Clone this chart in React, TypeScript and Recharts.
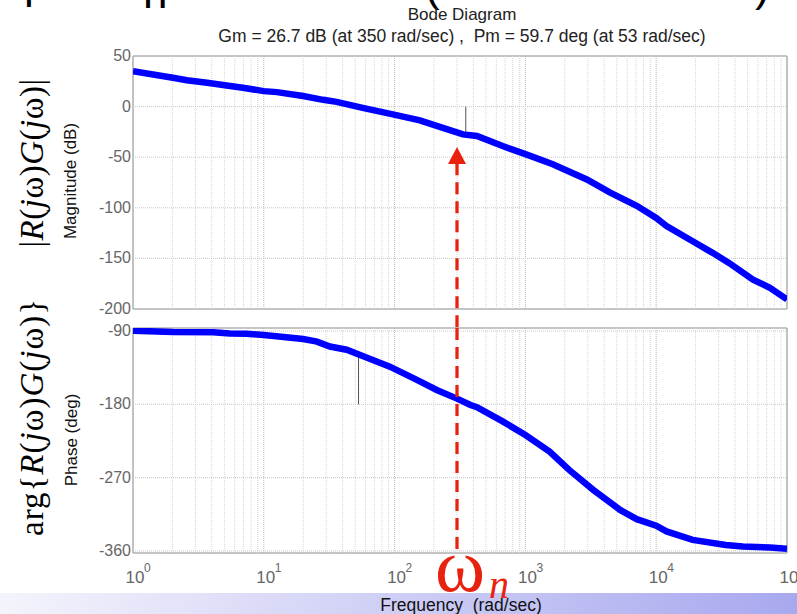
import { LineChart, Line, XAxis, YAxis, ReferenceLine, ReferenceArea, ReferenceDot } from "recharts"

// magnitude curve (rad/sec, dB)
const magFreq = [1, 2.02, 2.58, 3.68, 6.9, 10, 12.6, 20, 28.4, 36, 57, 97, 156, 234, 333, 426, 670, 1000, 1620, 2950, 4450, 7100, 10000, 12000, 19000, 27000, 36000, 55000, 74000, 100000]
const magDb = [35, 28.5, 26, 23.5, 18.6, 15.3, 14.3, 10.4, 6.7, 4.7, -1.2, -7.7, -13.6, -21, -27.5, -29, -39, -47, -57, -72, -85, -98, -110, -118, -133, -144.5, -154.5, -171, -179, -190.5]

// phase curve (rad/sec, deg)
const phaseFreq = [1, 2.02, 4.1, 5.5, 7.4, 10, 20, 25.5, 32, 43, 57, 92, 148, 210, 300, 380, 426, 670, 1000, 1530, 2160, 3300, 5300, 7100, 10000, 12000, 19000, 34000, 46000, 74000, 100000]
const phaseDeg = [-89.6, -91.2, -91.6, -92.9, -93.3, -94.9, -99.8, -103, -109, -113, -120.7, -133.8, -150, -162.4, -173, -180.8, -183.6, -201, -217.6, -238, -260.5, -285, -309.6, -321, -329, -336, -346.4, -352.6, -354.6, -355.8, -357.4]

const decades = [1, 10, 100, 1000, 10000, 100000]
const magTicks = [50, 0, -50, -100, -150, -200]
const phaseTicks = [-90, -180, -270, -360]

// margins: Gm = 26.7 dB at 350 rad/sec, Pm = 59.7 deg at 53 rad/sec
const gmFreq = 350
const gmDb = 26.7
const pmFreq = 53
const pmDeg = 59.7
const wn = 300

const magData = magFreq.map((f, i) => ({ f, v: magDb[i] }))
const phaseData = phaseFreq.map((f, i) => ({ f, v: phaseDeg[i] }))
const minorGrid = decades.slice(0, 5).flatMap(d => [2, 3, 4, 5, 6, 7, 8, 9].map(k => k * d))

const SANS = "'Liberation Sans', Arial, Helvetica, sans-serif"
const SERIF = "'Liberation Serif', 'Times New Roman', serif"
const RED = "#e8220f"
const BLUE = "#0000ff"

const YTick = ({ x, y, payload }: any) => (
    <text x={x} y={y} dy={5} textAnchor="end" fill="#666" fontSize={16} fontFamily={SANS}>
        {payload.value}
    </text>
)

const XTick = ({ x, y, payload }: any) => {
    const e = Math.round(Math.log10(payload.value))
    return (
        <g>
            <text x={x + 2} y={y + 30} textAnchor="middle" fill="#666" fontSize={17} fontFamily={SANS}>10</text>
            <text x={x + 11} y={y + 19} textAnchor="start" fill="#666" fontSize={12} fontFamily={SANS}>{e}</text>
        </g>
    )
}

function gridLines(yTicks: number[]) {
    return [
        ...minorGrid.map(v => <ReferenceLine key={"m" + v} x={v} stroke="#d4d4d4" strokeDasharray="1 1" />),
        ...decades.map(v => <ReferenceLine key={"d" + v} x={v} stroke="#b8b8b8" strokeDasharray="1 1" />),
        ...yTicks.map(v => <ReferenceLine key={"y" + v} y={v} stroke="#c8c8c8" strokeDasharray="1 1" />),
    ]
}

export default function App() {
    return (
        <div style={{ position: "absolute", left: 0, top: 0, width: 797, height: 614, background: "#fff", overflow: "hidden" }}>
            {/* slide footer strip */}
            <div style={{ position: "absolute", left: 0, top: 593, width: 797, height: 21, background: "linear-gradient(to right, #f4f4fc, #a8a8ef)" }} />

            {/* magnitude */}
            <div style={{ position: "absolute", left: 0, top: 0 }}>
                <LineChart width={797} height={614} margin={{ top: 56, right: 10, bottom: 305, left: 73 }}>
                    <XAxis dataKey="f" type="number" scale="log" domain={[1, 100000]} allowDataOverflow hide />
                    <YAxis type="number" domain={[-200, 50]} ticks={magTicks} interval={0} width={60} axisLine={false} tickLine={false} tickSize={0} tickMargin={2} tick={<YTick />} allowDataOverflow />
                    {gridLines([0, -50, -100, -150])}
                    <ReferenceArea x1={1} x2={100000} y1={-200} y2={50} fill="none" fillOpacity={0} stroke="#8a8a8a" ifOverflow="visible" />
                    <ReferenceLine segment={[{ x: gmFreq, y: 0 }, { x: gmFreq, y: -gmDb }]} stroke="#555" strokeWidth={1} />
                    <Line data={magData} dataKey="v" type="linear" stroke={BLUE} strokeWidth={6.5} dot={false} isAnimationActive={false} />
                    <ReferenceLine segment={[{ x: wn, y: -56 }, { x: wn, y: -218 }]} stroke={RED} strokeWidth={3.3} strokeDasharray="12 7" ifOverflow="visible" />
                    <ReferenceDot x={wn} y={-40} ifOverflow="visible" shape={(p: any) => (
                        <path d={`M${p.cx},${p.cy} L${p.cx - 9},${p.cy + 17} L${p.cx + 9},${p.cy + 17} Z`} fill={RED} />
                    )} />
                </LineChart>
            </div>

            {/* phase */}
            <div style={{ position: "absolute", left: 0, top: 0 }}>
                <LineChart width={797} height={614} margin={{ top: 328, right: 10, bottom: 21, left: 73 }}>
                    <XAxis dataKey="f" type="number" scale="log" domain={[1, 100000]} ticks={decades} interval={0} height={40} axisLine={false} tickLine={false} tickSize={0} tickMargin={0} tick={<XTick />} allowDataOverflow />
                    <YAxis type="number" domain={[-362.5, -86.3]} ticks={phaseTicks} interval={0} width={60} axisLine={false} tickLine={false} tickSize={0} tickMargin={2} tick={<YTick />} allowDataOverflow />
                    {gridLines(phaseTicks)}
                    <ReferenceArea x1={1} x2={100000} y1={-362.5} y2={-86.3} fill="none" fillOpacity={0} stroke="#8a8a8a" ifOverflow="visible" />
                    <ReferenceLine segment={[{ x: pmFreq, y: -180 }, { x: pmFreq, y: -180 + pmDeg }]} stroke="#555" strokeWidth={1} />
                    <Line data={phaseData} dataKey="v" type="linear" stroke={BLUE} strokeWidth={6.5} dot={false} isAnimationActive={false} />
                    <ReferenceLine segment={[{ x: wn, y: -86.3 }, { x: wn, y: -363 }]} stroke={RED} strokeWidth={3.3} strokeDasharray="12 7" ifOverflow="visible" />
                </LineChart>
            </div>

            {/* texts */}
            <svg width={797} height={614} style={{ position: "absolute", left: 0, top: 0, pointerEvents: "none" }}>
                {/* bottom of the slide title, cut off */}
                <g fontFamily={SANS} fontSize={44} fill="#000">
                    <text x={24} y={-2}>p</text>
                    <text x={143} y={8}>n</text>
                    <text x={425} y={1}>(</text>
                    <text x={755} y={1}>)</text>
                </g>
                <text x={462} y={20} textAnchor="middle" fontFamily={SANS} fontSize={17} fill="#222">Bode Diagram</text>
                <text x={462} y={42} textAnchor="middle" fontFamily={SANS} fontSize={17.5} fill="#222" style={{ whiteSpace: "pre" }}>
                    Gm = 26.7 dB (at 350 rad/sec) ,  Pm = 59.7 deg (at 53 rad/sec)
                </text>
                <text transform="translate(76,181) rotate(-90)" textAnchor="middle" fontFamily={SANS} fontSize={17} fill="#111">Magnitude (dB)</text>
                <text transform="translate(77,440) rotate(-90)" textAnchor="middle" fontFamily={SANS} fontSize={17} fill="#111">Phase (deg)</text>
                <text x={461} y={611} textAnchor="middle" fontFamily={SANS} fontSize={17.5} fill="#111" style={{ whiteSpace: "pre" }}>Frequency  (rad/sec)</text>

                <text transform="translate(43,163) rotate(-90)" textAnchor="middle" fontFamily={SERIF} fontSize={33} fill="#000" letterSpacing={0.5}>
                    |<tspan fontStyle="italic">R</tspan>(<tspan fontStyle="italic">j</tspan>ω)<tspan fontStyle="italic">G</tspan>(<tspan fontStyle="italic">j</tspan>ω)|
                </text>
                <text transform="translate(43,417) rotate(-90)" textAnchor="middle" fontFamily={SERIF} fontSize={33} fill="#000" letterSpacing={1}>
                    arg{"{"}<tspan fontStyle="italic">R</tspan>(<tspan fontStyle="italic">j</tspan>ω)<tspan fontStyle="italic">G</tspan>(<tspan fontStyle="italic">j</tspan>ω){"}"}
                </text>

                <text x={435} y={591} fontFamily={SERIF} fontSize={76} fill={RED}>ω</text>
                <text x={489} y={598} fontFamily={SERIF} fontStyle="italic" fontSize={40} fill={RED}>n</text>
            </svg>
        </div>
    )
}
